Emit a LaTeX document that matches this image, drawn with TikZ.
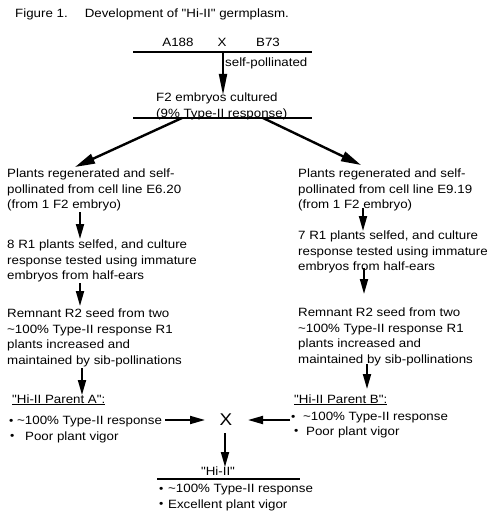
\documentclass[tikz,border=0pt]{standalone}
\usepackage{fontspec}
\setmainfont{Liberation Sans}[FakeStretch=1.11, Ligatures=TeXOff]
\usetikzlibrary{arrows.meta}
\newcommand{\fsz}{\fontsize{12}{15.5}\selectfont}
\newcommand{\bul}[1]{\makebox[#1][l]{\makebox[0pt][c]{\raisebox{0.3pt}{\fontsize{11}{11}\selectfont\textbullet}}}}
\begin{document}
\begin{tikzpicture}[x=1pt,y=-1pt,
  txt/.style={font=\fsz, inner sep=0pt, align=left, anchor=north west},
  lbl/.style={font=\fsz, inner sep=0pt, anchor=base},
  bar/.style={line width=1.8pt},
  thinbar/.style={line width=1.1pt},
  arr/.style={line width=1.8pt, -{Triangle[length=15pt,width=8pt]}},
  arrlong/.style={line width=1.8pt, -{Triangle[length=21pt,width=8pt]}},
  arrdiag/.style={line width=2.4pt, -{Triangle[length=20pt,width=10pt]}},
]
\useasboundingbox[fill=white] (0,0) rectangle (488,516);

% title
\node[lbl, anchor=base west] (title) at (15,18) {Figure 1.\hspace{17pt}Development of "Hi-II" germplasm.};

% first cross
\coordinate (t1) at (133,52);
\coordinate (t2) at (312,52);
\draw[bar] (t1) -- (t2);
\node[lbl] (a188) at (178,47) {A188};
\node[lbl] (cx) at (222,47) {X};
\node[lbl] (b73) at (268,47) {B73};
\coordinate (tx) at (223,52);
\coordinate (f2in) at (223,95);
\draw[arrlong] (tx) -- (f2in);
\node[lbl, anchor=base west] (sp) at (225,67) {self-pollinated};

% F2
\node[txt] (f2) at (156,93) {F2 embryos cultured\\(9\% Type-II response)};
\coordinate (u1) at (133,118);
\coordinate (u2) at (312,118);
\draw[bar] (u1) -- (u2);
\coordinate (dl) at (182,118);
\coordinate (dr) at (263,118);
\coordinate (l1in) at (75,167);
\coordinate (r1in) at (361,165);
\draw[arrdiag] (dl) -- (l1in);
\draw[arrdiag] (dr) -- (r1in);

% left column
\node[txt] (l1) at (7,169) {Plants regenerated and self-\\pollinated from cell line E6.20\\(from 1 F2 embryo)};
\node[txt] (l2) at (7,240) {8 R1 plants selfed, and culture\\response tested using immature\\embryos from half-ears};
\node[txt] (l3) at (7,309) {Remnant R2 seed from two\\\textasciitilde100\% Type-II response R1\\plants increased and\\maintained by sib-pollinations};
\coordinate (la1) at (80,212);
\coordinate (la2) at (80,239);
\coordinate (lb1) at (80,283);
\coordinate (lb2) at (80,306);
\coordinate (lc1) at (82,368);
\coordinate (lc2) at (82,395);
\draw[arr] (la1) -- (la2);
\draw[arr] (lb1) -- (lb2);
\draw[arr] (lc1) -- (lc2);

% right column
\node[txt] (r1) at (298,169) {Plants regenerated and self-\\pollinated from cell line E9.19\\(from 1 F2 embryo)};
\node[txt] (r2) at (298,231) {7 R1 plants selfed, and culture\\response tested using immature\\embryos from half-ears};
\node[txt] (r3) at (298,308) {Remnant R2 seed from two\\\textasciitilde100\% Type-II response R1\\plants increased and\\maintained by sib-pollinations};
\coordinate (ra1) at (363,208);
\coordinate (ra2) at (363,231);
\coordinate (rb1) at (364,268);
\coordinate (rb2) at (364,294);
\coordinate (rc1) at (367,364);
\coordinate (rc2) at (367,389);
\draw[arr] (ra1) -- (ra2);
\draw[arr] (rb1) -- (rb2);
\draw[arr] (rc1) -- (rc2);

% parents
\node[lbl, anchor=base west] (pa) at (12,403) {\underline{"Hi-II Parent A":}};
\node[txt] (pal) at (11,416) {\bul{6pt}\textasciitilde100\% Type-II response\\\hspace{1pt}\bul{13pt}Poor plant vigor};
\node[lbl, anchor=base west] (pb) at (294,403) {\underline{"Hi-II Parent B":}};
\node[txt] (pbl) at (293,412) {\bul{10pt}\textasciitilde100\% Type-II response\\[-1pt]\hspace{3pt}\bul{10pt}Poor plant vigor};

% second cross
\node[font=\fontsize{17}{17}\selectfont, inner sep=0pt] (bx) at (226,420) {X};
\coordinate (pa1) at (165,420);
\coordinate (pa2) at (205,420);
\coordinate (pb1) at (290,420);
\coordinate (pb2) at (248,420);
\draw[arr] (pa1) -- (pa2);
\draw[arr] (pb1) -- (pb2);
\coordinate (x1) at (225,433);
\coordinate (x2) at (225,467);
\draw[arr] (x1) -- (x2);

% Hi-II
\node[lbl] (hi) at (218,475) {"Hi-II"};
\coordinate (h1) at (157,479);
\coordinate (h2) at (300,479);
\draw[thinbar] (h1) -- (h2);
\node[txt] (hil) at (161,484) {\bul{7pt}\textasciitilde100\% Type-II response\\\bul{7pt}Excellent plant vigor};
\end{tikzpicture}
\end{document}
